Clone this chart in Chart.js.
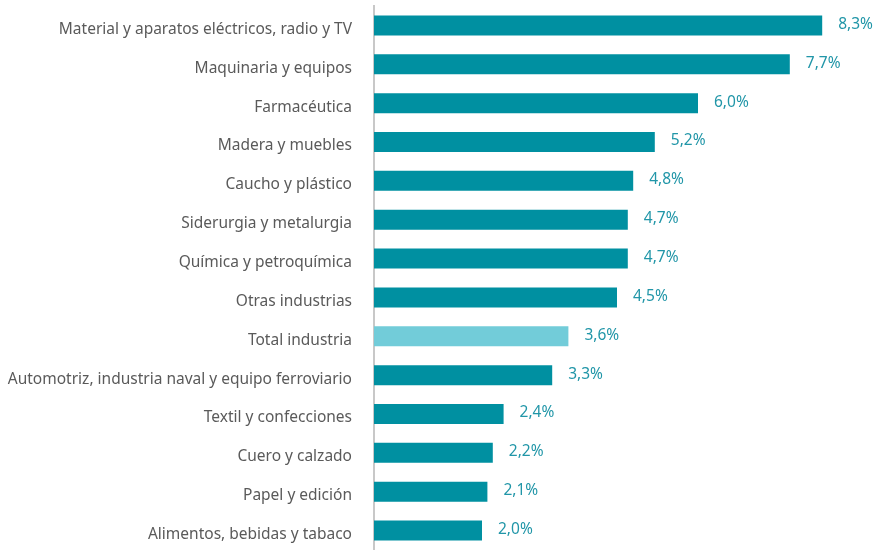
<!DOCTYPE html>
<html>
<head>
<meta charset="utf-8">
<script src="https://cdn.jsdelivr.net/npm/chart.js@4/dist/chart.umd.min.js"></script>
<style>
  html, body { margin: 0; padding: 0; background: #ffffff; overflow: hidden; }
  canvas { display: block; }
</style>
</head>
<body>
<canvas id="c" width="876" height="550"></canvas>
<script>
const categories = [
  'Material y aparatos eléctricos, radio y TV',
  'Maquinaria y equipos',
  'Farmacéutica',
  'Madera y muebles',
  'Caucho y plástico',
  'Siderurgia y metalurgia',
  'Química y petroquímica',
  'Otras industrias',
  'Total industria',
  'Automotriz, industria naval y equipo ferroviario',
  'Textil y confecciones',
  'Cuero y calzado',
  'Papel y edición',
  'Alimentos, bebidas y tabaco'
];
const growth = [8.3, 7.7, 6.0, 5.2, 4.8, 4.7, 4.7, 4.5, 3.6, 3.3, 2.4, 2.2, 2.1, 2.0];
const highlight = 'Total industria';

const DARK = '#0090a1';
const LIGHT = '#72ccd9';
const FONT = '"Noto Sans", sans-serif';

// Percentage labels to the right of each bar
const valueLabels = {
  id: 'valueLabels',
  afterDatasetsDraw(chart) {
    const ctx = chart.ctx;
    const meta = chart.getDatasetMeta(0);
    ctx.save();
    ctx.font = '15.5px ' + FONT;
    ctx.fillStyle = '#2196a8';
    ctx.textAlign = 'left';
    ctx.textBaseline = 'middle';
    meta.data.forEach((bar, i) => {
      const txt = growth[i].toFixed(1).replace('.', ',') + '%';
      ctx.fillText(txt, bar.x + 16, bar.y - 1);
    });
    ctx.restore();
  }
};

new Chart(document.getElementById('c'), {
  type: 'bar',
  data: {
    labels: categories,
    datasets: [{
      data: growth,
      backgroundColor: categories.map(c => c === highlight ? LIGHT : DARK),
      barPercentage: 0.515,
      categoryPercentage: 1.0
    }]
  },
  options: {
    indexAxis: 'y',
    responsive: false,
    animation: false,
    layout: { padding: { top: 6, right: 16, bottom: 0, left: 0 } },
    plugins: { legend: { display: false }, tooltip: { enabled: false } },
    scales: {
      x: {
        min: 0, max: 9,
        display: false
      },
      y: {
        grid: { display: false, drawTicks: false },
        border: { display: true, color: '#c8c8c8', width: 2 },
        ticks: { color: '#5a5a5a', font: { family: FONT, size: 15.5 }, padding: 22, labelOffset: 4 },
        afterFit(scale) {
          scale.width = 374;
          scale.paddingTop = 0;
          scale.paddingBottom = 0;
        }
      }
    }
  },
  plugins: [valueLabels]
});
</script>
</body>
</html>
